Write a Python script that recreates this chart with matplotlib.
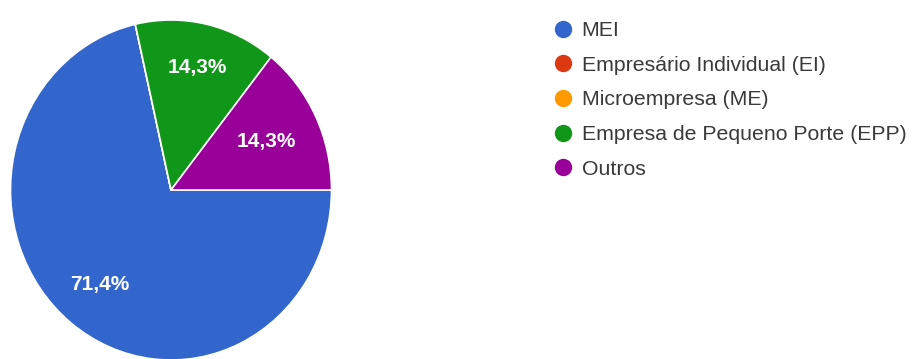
import matplotlib.pyplot as plt
from matplotlib.lines import Line2D
import numpy as np

plt.rcParams['font.family'] = ['Liberation Sans', 'DejaVu Sans']

# respostas por tipo de empresa
categorias = ['MEI', 'Empresário Individual (EI)', 'Microempresa (ME)',
              'Empresa de Pequeno Porte (EPP)', 'Outros']
respostas = [5, 0, 0, 1, 1]
cores = ['#3366CC', '#DC3912', '#FF9900', '#109618', '#990099']

fig = plt.figure(figsize=(9.18, 3.59), dpi=100)

# eixo da pizza (levemente mais alto que largo)
W, H = 918, 359
rx, ry = 160.5, 170
cx, cy = 171, H - 190
ax = fig.add_axes([(cx - rx) / W, (cy - ry) / H, 2 * rx / W, 2 * ry / H])


def fmt(p):
    if p < 0.5:
        return ''
    return ('%.1f%%' % p).replace('.', ',')


wedges, textos, pcts = ax.pie(respostas, colors=cores, startangle=0, counterclock=False,
                              radius=1, autopct=fmt, pctdistance=0.72,
                              wedgeprops=dict(edgecolor='white', linewidth=1.2),
                              textprops=dict(color='white', fontsize=15, fontweight='bold'))

# distância de cada rótulo ao centro
raios = {0: 0.71, 3: 0.74, 4: 0.66}
for i, (w, t) in enumerate(zip(wedges, pcts)):
    if respostas[i] == 0:
        continue
    ang = np.deg2rad((w.theta1 + w.theta2) / 2)
    r = raios.get(i, 0.72)
    t.set_position((r * np.cos(ang), r * np.sin(ang)))

ax.set_xlim(-1, 1)
ax.set_ylim(-1, 1)
ax.set_aspect('auto')
ax.axis('off')

handles = [Line2D([], [], marker='o', linestyle='none', markersize=11.5,
                  markerfacecolor=c, markeredgecolor=c) for c in cores]
fig.legend(handles, categorias, loc='upper left', bbox_to_anchor=(553 / W, 1 - 21 / H),
           frameon=False, fontsize=15.3, labelcolor='#3a3a3a',
           handlelength=0.9, handletextpad=0.45, labelspacing=0.74, borderaxespad=0,
           borderpad=0)

fig.savefig('out.png', dpi=100, facecolor='white')
